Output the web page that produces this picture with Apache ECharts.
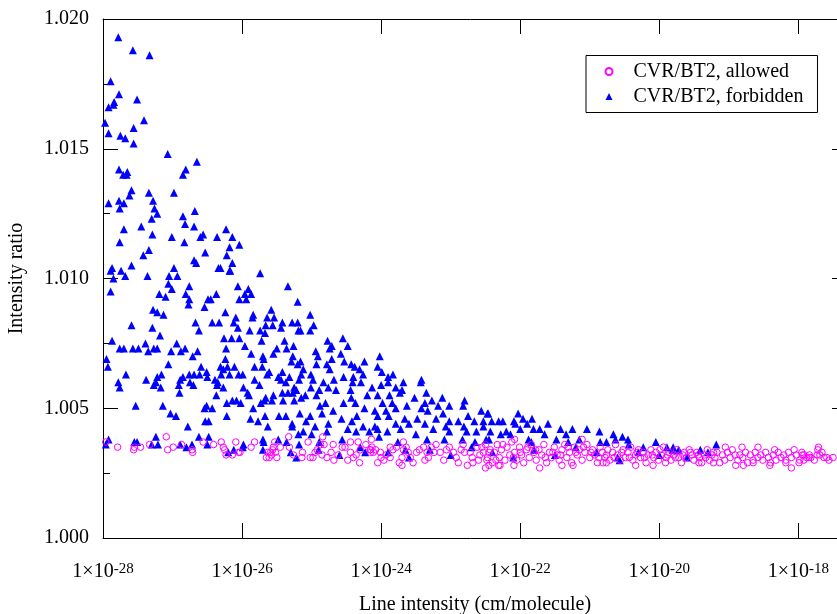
<!DOCTYPE html>
<html>
<head>
<meta charset="utf-8">
<script src="https://cdn.jsdelivr.net/npm/echarts@6/dist/echarts.min.js"></script>
<style>html,body{margin:0;padding:0;background:#fff}#c{width:837px;height:614px}</style>
</head>
<body>
<div id="c"></div>
<script>
// x values are log10 of line intensity (cm/molecule); y values are intensity ratios
const xTickExponents = [-28, -26, -24, -22, -20, -18];
const xRange = [-28, -17.3];
const yRange = [1.000, 1.020];
const yTickStep = 0.005;
const seriesNames = ['CVR/BT2, allowed', 'CVR/BT2, forbidden'];

const forbiddenPoints = [
[-27.78,1.0193],[-27.57,1.0188],[-27.33,1.0186],[-27.89,1.0176],[-27.77,1.0171],[-27.84,1.0168],[-27.51,1.0169],[-27.92,1.0166],[-27.85,1.0167],[-27.97,1.0160],
[-27.41,1.0161],[-27.56,1.0158],[-27.92,1.0156],[-27.75,1.0155],[-27.68,1.0154],[-27.56,1.0152],[-27.07,1.0148],[-26.65,1.0145],[-26.81,1.0142],[-26.85,1.0140],
[-27.77,1.0142],[-27.71,1.0140],[-27.65,1.0141],[-27.66,1.0140],[-27.59,1.0134],[-27.62,1.0132],[-27.34,1.0133],[-26.98,1.0133],[-27.28,1.0130],[-27.92,1.0129],
[-27.77,1.0130],[-27.70,1.0129],[-27.76,1.0127],[-27.26,1.0127],[-27.22,1.0125],[-27.30,1.0123],[-26.85,1.0124],[-26.68,1.0126],[-26.82,1.0121],[-26.69,1.0120],
[-27.45,1.0120],[-27.70,1.0119],[-26.56,1.0117],[-26.60,1.0116],[-26.23,1.0119],[-26.14,1.0116],[-26.36,1.0116],[-27.29,1.0117],[-27.01,1.0116],[-26.83,1.0114],
[-27.76,1.0114],[-26.04,1.0113],[-26.18,1.0112],[-26.53,1.0110],[-26.22,1.0109],[-27.34,1.0111],[-27.42,1.0109],[-26.69,1.0107],[-26.66,1.0106],[-26.14,1.0106],
[-26.34,1.0104],[-26.31,1.0104],[-26.18,1.0103],[-26.17,1.0103],[-25.74,1.0102],[-27.59,1.0105],[-27.87,1.0104],[-27.89,1.0103],[-27.74,1.0103],[-26.98,1.0104],
[-27.05,1.0101],[-26.93,1.0101],[-27.36,1.0101],[-27.68,1.0101],[-27.85,1.0100],
[-25.34,1.0097],[-26.06,1.0097],[-27.06,1.0098],[-26.76,1.0097],[-27.89,1.0095],[-27.01,1.0096],[-27.19,1.0094],[-27.10,1.0093],[-26.81,1.0094],[-26.76,1.0092],
[-26.77,1.0090],[-26.49,1.0092],[-26.45,1.0092],[-26.37,1.0094],[-25.91,1.0096],[-25.96,1.0094],[-25.87,1.0094],[-26.04,1.0092],[-25.94,1.0092],[-25.20,1.0091],
[-26.54,1.0089],[-27.28,1.0088],[-27.22,1.0087],[-27.13,1.0086],[-26.24,1.0087],[-25.84,1.0086],[-25.58,1.0088],[-25.85,1.0085],[-25.64,1.0085],[-25.54,1.0085],
[-26.09,1.0085],[-25.42,1.0083],[-25.28,1.0083],[-26.67,1.0083],[-26.43,1.0083],[-26.33,1.0083],[-26.12,1.0083],[-27.59,1.0082],[-27.29,1.0081],[-26.62,1.0080],
[-26.06,1.0081],[-25.89,1.0080],[-25.74,1.0080],[-25.66,1.0082],[-25.56,1.0082],[-25.44,1.0081],[-25.19,1.0080],[-27.18,1.0078],[-25.67,1.0079],[-26.15,1.0077],
[-26.04,1.0077],[-26.26,1.0077],[-25.72,1.0076],[-25.39,1.0076],[-27.87,1.0076],[-27.39,1.0075],[-26.94,1.0075],[-27.27,1.0073],[-27.22,1.0073],[-27.76,1.0073],
[-27.70,1.0073],[-27.57,1.0073],[-27.49,1.0073],[-27.35,1.0072],[-27.02,1.0072],[-26.88,1.0072],[-26.82,1.0073],[-26.64,1.0072],[-26.23,1.0073],[-25.96,1.0074],
[-25.50,1.0073],[-25.36,1.0073],[-25.26,1.0074],[-25.87,1.0071],[-25.70,1.0070],[-25.55,1.0071],[-25.27,1.0070],[-26.71,1.0070],[-27.95,1.0069],[-26.24,1.0069],
[-25.69,1.0069],[-27.93,1.0066],[-27.06,1.0067],[-26.59,1.0066],[-26.31,1.0066],[-26.11,1.0066],[-25.82,1.0066],[-25.20,1.0067],[-25.29,1.0068],[-25.71,1.0066],
[-26.27,1.0065],[-26.21,1.0066],[-26.51,1.0064],[-25.61,1.0064],[-25.42,1.0064],[-27.16,1.0063],[-26.76,1.0063],[-26.69,1.0063],[-26.61,1.0063],[-26.30,1.0063],
[-26.18,1.0063],[-26.05,1.0063],[-25.99,1.0063],[-27.67,1.0063],[-26.50,1.0062],[-25.64,1.0063],[-25.48,1.0062],[-25.32,1.0062],[-27.22,1.0062],[-26.85,1.0062],
[-26.89,1.0061],[-26.39,1.0061],[-26.35,1.0060],[-25.82,1.0061],[-27.38,1.0061],[-27.24,1.0060],[-26.75,1.0060],[-26.70,1.0059],[-25.44,1.0061],[-25.37,1.0060],
[-27.78,1.0060],[-27.76,1.0058],[-27.27,1.0059],[-27.17,1.0058],[-26.91,1.0059],[-26.36,1.0059],[-25.98,1.0058],[-25.75,1.0059],
[-26.90,1.0056],[-26.27,1.0058],[-25.92,1.0056],[-25.42,1.0056],[-25.34,1.0056],[-25.27,1.0056],[-25.22,1.0057],[-25.90,1.0055],[-26.37,1.0055],[-25.66,1.0054],
[-25.55,1.0055],[-25.41,1.0053],[-25.57,1.0053],[-25.68,1.0053],[-25.73,1.0052],[-26.14,1.0053],[-26.08,1.0053],[-26.02,1.0052],[-26.22,1.0052],[-27.53,1.0051],
[-27.14,1.0051],[-26.51,1.0051],[-26.54,1.0050],[-26.43,1.0050],[-25.84,1.0050],[-27.03,1.0048],[-26.95,1.0047],[-26.22,1.0047],[-25.67,1.0047],[-25.47,1.0047],
[-25.37,1.0047],[-25.88,1.0046],[-25.77,1.0045],[-26.53,1.0045],[-26.48,1.0045],[-25.63,1.0043],[-25.28,1.0043],[-26.78,1.0043],[-25.19,1.0040],[-26.62,1.0039],
[-26.48,1.0039],[-27.24,1.0039],[-27.92,1.0038],[-27.55,1.0037],[-27.51,1.0037],[-27.21,1.0036],[-26.89,1.0036],[-26.72,1.0036],[-26.50,1.0036],[-25.98,1.0036],
[-25.70,1.0038],[-25.69,1.0037],[-25.48,1.0038],[-25.36,1.0037],[-27.96,1.0036],[-26.12,1.0034],[-25.99,1.0035],[-25.22,1.0031],
[-25.02,1.0086],[-25.20,1.0083],[-24.97,1.0082],[-25.02,1.0080],[-25.16,1.0080],[-24.77,1.0076],[-24.55,1.0077],[-24.71,1.0074],[-24.48,1.0074],[-24.74,1.0073],
[-24.94,1.0072],[-24.58,1.0071],[-24.02,1.0070],[-24.24,1.0068],[-24.91,1.0070],[-24.71,1.0069],[-25.16,1.0068],[-24.93,1.0067],[-24.78,1.0067],[-24.43,1.0067],
[-24.38,1.0066],[-24.05,1.0066],[-24.53,1.0068],[-25.12,1.0065],[-24.74,1.0065],[-24.31,1.0065],[-23.99,1.0064],[-25.01,1.0063],[-25.15,1.0063],[-24.54,1.0062],
[-24.40,1.0062],[-24.26,1.0063],[-23.90,1.0062],[-23.83,1.0063],[-23.42,1.0061],[-25.18,1.0061],[-24.98,1.0061],[-24.83,1.0060],[-24.68,1.0061],[-24.41,1.0060],
[-24.29,1.0060],[-24.00,1.0059],[-23.90,1.0060],[-23.68,1.0060],[-23.43,1.0060],[-25.25,1.0058],[-25.01,1.0058],[-24.89,1.0057],[-24.76,1.0058],[-24.65,1.0057],
[-24.44,1.0057],[-24.13,1.0058],[-23.79,1.0058],[-23.70,1.0057],[-23.35,1.0056],[-23.12,1.0054],[-22.80,1.0053],[-25.09,1.0055],[-24.93,1.0055],[-24.43,1.0054],
[-24.20,1.0055],[-24.05,1.0055],[-23.88,1.0055],[-23.73,1.0056],[-23.52,1.0054],[-23.27,1.0053],[-25.25,1.0053],[-25.15,1.0054],[-24.80,1.0052],[-24.54,1.0052],
[-24.37,1.0052],[-23.98,1.0052],[-23.84,1.0052],[-23.63,1.0051],[-23.37,1.0052],[-23.18,1.0051],[-23.02,1.0051],[-22.82,1.0051],[-24.88,1.0051],[-24.69,1.0049],
[-24.24,1.0050],[-24.09,1.0049],[-23.93,1.0049],[-23.79,1.0050],[-23.42,1.0050],[-23.33,1.0049],[-23.11,1.0048],[-22.75,1.0047],[-22.56,1.0049],[-22.47,1.0048],
[-25.17,1.0048],[-25.02,1.0047],[-24.85,1.0048],[-24.57,1.0046],[-24.35,1.0047],[-24.05,1.0047],[-23.89,1.0047],[-23.66,1.0046],[-23.48,1.0046],[-23.21,1.0046],
[-23.02,1.0045],[-22.89,1.0045],[-22.66,1.0045],[-25.28,1.0044],[-25.08,1.0045],[-24.95,1.0043],[-24.76,1.0044],[-24.42,1.0045],[-24.26,1.0043],[-24.09,1.0043],
[-23.79,1.0044],[-23.60,1.0044],[-23.37,1.0044],[-23.07,1.0043],[-22.81,1.0043],[-22.53,1.0043],[-25.12,1.0041],[-25.00,1.0040],[-24.78,1.0041],[-24.48,1.0042],
[-24.36,1.0041],[-24.17,1.0041],[-24.05,1.0042],[-23.91,1.0041],[-23.72,1.0042],[-23.50,1.0040],[-23.25,1.0042],[-23.02,1.0041],[-22.77,1.0041],[-22.63,1.0041],
[-25.18,1.0036],[-24.89,1.0037],[-24.56,1.0038],[-24.03,1.0039],[-23.76,1.0037],[-23.34,1.0038],[-23.09,1.0038],[-22.83,1.0038],[-22.65,1.0037],[-22.45,1.0038],
[-24.23,1.0033],[-23.65,1.0034],
[-22.46,1.0048],[-22.03,1.0048],[-21.96,1.0046],[-22.09,1.0045],[-22.25,1.0045],[-21.83,1.0046],[-22.53,1.0045],[-22.41,1.0045],[-22.31,1.0045],[-21.60,1.0044],
[-21.90,1.0044],[-22.07,1.0044],[-21.72,1.0042],[-21.42,1.0042],[-21.25,1.0042],[-21.04,1.0042],[-21.81,1.0042],[-22.00,1.0042],[-22.20,1.0041],[-22.43,1.0041],
[-20.86,1.0041],[-20.66,1.0040],[-20.53,1.0039],[-20.45,1.0038],[-22.28,1.0040],[-22.14,1.0040],[-21.65,1.0040],[-21.34,1.0040],[-21.15,1.0038],[-21.48,1.0038],
[-22.49,1.0038],[-21.88,1.0038],[-20.76,1.0037],[-20.63,1.0038],[-21.84,1.0037],[-21.31,1.0037],[-20.85,1.0037],[-20.05,1.0037],[-19.89,1.0035],[-19.81,1.0034],
[-19.72,1.0034],[-20.23,1.0035],[-20.44,1.0036],[-20.57,1.0030],[-19.41,1.0034],[-19.18,1.0036],[-19.80,1.0035],
[-24.90,1.0034],[-24.60,1.0032],[-24.30,1.0035],[-23.90,1.0033],[-23.60,1.0031],[-23.30,1.0034],[-23.00,1.0032],[-22.70,1.0035],[-22.40,1.0033],[-22.10,1.0031],
[-21.80,1.0034],[-21.50,1.0032],[-21.20,1.0035],[-20.90,1.0033],[-20.60,1.0031],[-20.30,1.0033],[-20.00,1.0032],[-19.60,1.0031],[-19.30,1.0033],[-25.30,1.0033],
[-25.70,1.0034],[-26.20,1.0033],[-26.80,1.0035],[-27.30,1.0036]
];

const allowedPoints = [
[-27.96,1.0037],[-27.79,1.0035],[-27.56,1.0034],[-27.55,1.0035],[-27.46,1.0035],[-27.33,1.0036],[-27.09,1.0039],[-27.07,1.0034],[-26.99,1.0035],[-26.87,1.0036],
[-26.72,1.0034],[-26.71,1.0033],[-26.56,1.0037],[-26.41,1.0036],[-26.30,1.0037],[-26.27,1.0035],[-26.25,1.0034],[-26.23,1.0032],[-26.09,1.0037],[-26.14,1.0032],
[-26.05,1.0033],[-25.87,1.0035],[-25.82,1.0037],[-25.65,1.0031],[-25.63,1.0033],[-25.59,1.0033],[-25.55,1.0035],[-25.52,1.0033],[-25.50,1.0031],[-25.53,1.0037],
[-25.45,1.0035],[-25.33,1.0039],[-25.32,1.0035],[-26.03,1.0033],
[-25.26,1.0032],[-25.05,1.0037],[-25.13,1.0033],[-25.02,1.0031],[-24.98,1.0031],[-24.92,1.0034],[-24.84,1.0039],[-24.82,1.0036],[-24.85,1.0032],
[-24.78,1.0031],[-24.68,1.0030],[-24.69,1.0036],[-24.56,1.0035],[-24.44,1.0037],[-24.33,1.0037],[-24.44,1.0033],[-24.30,1.0034],[-24.40,1.0031],[-24.14,1.0038],
[-24.15,1.0033],[-24.11,1.0033],[-24.01,1.0033],[-24.00,1.0031],[-24.05,1.0029],[-23.96,1.0030],[-23.87,1.0031],[-23.87,1.0035],[-23.78,1.0035],[-23.68,1.0037],
[-23.68,1.0034],[-23.70,1.0031],[-23.74,1.0029],[-23.54,1.0029],[-23.49,1.0033],[-23.39,1.0035],[-23.34,1.0033],[-23.32,1.0031],[-23.21,1.0036],[-23.24,1.0033],
[-23.10,1.0030],[-23.06,1.0034],[-22.92,1.0031],[-22.89,1.0029],[-22.82,1.0036],[-22.80,1.0033],[-22.76,1.0028],[-22.69,1.0031],[-22.68,1.0029],[-22.55,1.0035],
[-22.53,1.0033],[-22.48,1.0030],[-22.45,1.0028],[-22.60,1.0030],[-23.37,1.0030],[-25.14,1.0031],[-24.31,1.0029],[-23.70,1.0028],[-23.61,1.0033],
[-25.58,1.0032],[-25.61,1.0031],[-25.56,1.0034],[-24.15,1.0034],[-24.13,1.0035],[-24.16,1.0034],
[-24.95,1.0033],[-24.87,1.0036],[-24.72,1.0033],[-24.62,1.0032],[-24.52,1.0035],[-24.48,1.0030],[-24.36,1.0032],[-24.22,1.0036],[-24.08,1.0034],[-23.93,1.0032],
[-23.83,1.0034],[-23.64,1.0035],[-23.58,1.0031],[-23.45,1.0034],[-23.28,1.0035],[-23.15,1.0033],[-23.02,1.0035],[-22.96,1.0033],[-22.85,1.0034],[-22.72,1.0033],
[-22.62,1.0035],[-22.58,1.0032],
[-22.08,1.0038],[-21.11,1.0038],[-22.31,1.0028],[-21.72,1.0027],[-21.40,1.0028],[-21.24,1.0028],[-20.81,1.0029],[-20.34,1.0028],[-19.91,1.0029],[-18.90,1.0028],
[-18.79,1.0028],[-18.41,1.0028],[-18.10,1.0027],[-18.06,1.0034],[-17.72,1.0034],[-17.63,1.0031],[-17.56,1.0030],[-18.81,1.0035],[-18.58,1.0035],[-18.34,1.0034],
[-17.92,1.0032],[-17.82,1.0031],[-22.29,1.0028],[-22.09,1.0028],[-22.50,1.0027],[-20.76,1.0029],[-20.09,1.0028],
[-19.05,1.0035],[-17.71,1.0035],[-17.73,1.0032],[-17.94,1.0032],[-17.85,1.0031],[-18.65,1.0029],[-19.22,1.0029],[-19.43,1.0029],[-18.18,1.0029],[-17.99,1.0029],
[-17.92,1.0030],
[-22.50,1.0036],[-22.47,1.0031],[-22.43,1.0034],[-22.40,1.0029],[-22.37,1.0033],[-22.33,1.0036],[-22.30,1.0031],[-22.27,1.0034],[-22.22,1.0030],[-22.19,1.0035],
[-22.15,1.0032],[-22.12,1.0037],[-22.08,1.0033],[-22.05,1.0030],[-22.01,1.0035],[-21.98,1.0032],[-21.95,1.0029],[-21.91,1.0034],[-21.87,1.0031],[-21.84,1.0036],
[-21.80,1.0033],[-21.77,1.0030],[-21.73,1.0034],[-21.69,1.0032],[-21.66,1.0036],[-21.62,1.0029],[-21.58,1.0033],[-21.55,1.0031],[-21.51,1.0035],[-21.47,1.0032],
[-21.44,1.0030],[-21.40,1.0034],[-21.36,1.0036],[-21.33,1.0031],[-21.29,1.0033],[-21.26,1.0029],[-21.22,1.0035],[-21.18,1.0032],[-21.15,1.0034],[-21.11,1.0030],
[-21.07,1.0033],[-21.04,1.0036],[-21.00,1.0031],[-20.96,1.0034],[-20.93,1.0032],[-20.89,1.0029],[-20.85,1.0035],[-20.82,1.0033],[-20.78,1.0031],[-20.74,1.0034],
[-20.71,1.0030],[-20.67,1.0033],[-20.63,1.0036],[-20.60,1.0032],[-20.56,1.0030],[-20.52,1.0034],[-20.49,1.0031],[-20.45,1.0033],[-20.41,1.0035],[-20.38,1.0030],
[-20.34,1.0032],[-20.30,1.0034],[-20.27,1.0031],[-20.23,1.0033],[-20.19,1.0029],[-20.16,1.0032],[-20.12,1.0034],[-20.08,1.0031],[-20.05,1.0033],[-20.01,1.0030],
[-19.97,1.0032],[-19.94,1.0035],[-19.90,1.0031],[-19.86,1.0033],[-19.83,1.0030],[-19.79,1.0032],[-19.75,1.0034],[-19.72,1.0031],[-19.68,1.0029],[-19.64,1.0033],
[-19.61,1.0031],[-19.57,1.0034],[-19.53,1.0032],[-19.50,1.0030],[-19.46,1.0033],[-19.42,1.0031],[-19.39,1.0029],[-19.35,1.0032],[-19.31,1.0034],[-19.28,1.0030],
[-19.24,1.0032],[-19.20,1.0031],[-19.17,1.0033],[-19.13,1.0029],[-19.09,1.0032],[-19.06,1.0030],[-19.02,1.0033],[-18.98,1.0031],[-18.95,1.0034],[-18.91,1.0032],
[-18.87,1.0030],[-18.84,1.0032],[-18.80,1.0031],[-18.76,1.0033],[-18.73,1.0029],[-18.69,1.0032],[-18.65,1.0030],[-18.62,1.0033],[-18.58,1.0031],[-18.54,1.0032],
[-18.51,1.0030],[-18.47,1.0033],[-18.43,1.0031],[-18.40,1.0029],[-18.36,1.0032],[-18.32,1.0030],[-18.29,1.0033],[-18.25,1.0031],[-18.21,1.0032],[-18.18,1.0030],
[-18.14,1.0033],[-18.10,1.0031],[-18.03,1.0032],[-17.98,1.0030],[-17.95,1.0033],[-17.88,1.0031],[-17.84,1.0032],[-17.77,1.0030],[-17.69,1.0032],[-17.66,1.0033],
[-17.59,1.0031],[-17.50,1.0031],
[-22.45,1.0033],[-22.35,1.0030],[-22.25,1.0036],[-22.10,1.0031],[-22.00,1.0033],[-21.89,1.0035],[-21.78,1.0034],[-21.64,1.0031],[-21.53,1.0033],[-21.42,1.0032],
[-21.31,1.0035],[-21.20,1.0033],[-21.09,1.0035],[-20.98,1.0033],[-20.87,1.0031],[-20.76,1.0032],[-20.65,1.0031],[-20.54,1.0033],[-20.43,1.0031],[-20.32,1.0033],
[-20.21,1.0031],[-20.10,1.0032],[-19.99,1.0034],[-19.88,1.0032],[-19.77,1.0031],[-19.66,1.0032],[-19.55,1.0033],[-19.44,1.0032],[-19.33,1.0031],[-19.22,1.0033]
];

const FONT = "'Liberation Serif', 'Times New Roman', Times, serif";
const chart = echarts.init(document.getElementById('c'), null, {renderer: 'canvas'});

function xAxisCfg(pos, withLabels) {
  return {
    type: 'value', position: pos, min: xRange[0], max: xRange[1], interval: 2,
    name: withLabels ? 'Line intensity (cm/molecule)' : '',
    nameLocation: 'middle', nameGap: 57, nameMoveOverlap: false,
    nameTextStyle: {fontFamily: FONT, fontSize: 20, color: '#000'},
    axisLine: {show: true, onZero: false, lineStyle: {color: '#000', width: 1}},
    axisTick: {show: true, inside: true, length: 15, lineStyle: {color: '#000', width: 1}},
    axisLabel: {
      show: withLabels, showMaxLabel: false, margin: 24,
      formatter: v => xTickExponents.indexOf(v) >= 0 ? '{b|1×10}{s|' + v + '}' : '',
      rich: {
        b: {fontFamily: FONT, fontSize: 20, color: '#000', lineHeight: 20, verticalAlign: 'bottom'},
        s: {fontFamily: FONT, fontSize: 15, color: '#000', lineHeight: 20, padding: [0, 0, 13, 0], verticalAlign: 'top'}
      }
    },
    splitLine: {show: false}
  };
}
function yAxisCfg(pos, withLabels) {
  return {
    type: 'value', position: pos, min: yRange[0], max: yRange[1], interval: yTickStep,
    name: withLabels ? 'Intensity ratio' : '',
    nameLocation: 'middle', nameGap: 76, nameRotate: 90, nameMoveOverlap: false,
    nameTextStyle: {fontFamily: FONT, fontSize: 20, color: '#000'},
    axisLine: {show: true, onZero: false, lineStyle: {color: '#000', width: 1}},
    axisTick: {show: true, inside: true, length: 15, lineStyle: {color: '#000', width: 1}},
    minorTick: {show: true, splitNumber: 2, length: 7, lineStyle: {color: '#000', width: 1}},
    axisLabel: {show: withLabels, margin: 14, fontFamily: FONT, fontSize: 20, color: '#000',
      padding: [6, 0, 0, 0], formatter: v => v.toFixed(3)},
    splitLine: {show: false}
  };
}

chart.setOption({
  animation: false,
  backgroundColor: '#fff',
  grid: {left: 103, top: 19, width: 744, height: 519, containLabel: false, outerBoundsMode: 'none'},
  legend: {
    data: seriesNames, orient: 'vertical', left: 586, top: 55.5,
    padding: [3.5, 14, 3.5, 18.5], itemGap: 0, itemWidth: 7, itemHeight: 7,
    borderColor: '#000', borderWidth: 1, backgroundColor: '#fff',
    textStyle: {fontFamily: FONT, fontSize: 20, color: '#000', lineHeight: 25, padding: [0, 0, 0, 16]}
  },
  xAxis: [xAxisCfg('bottom', true), xAxisCfg('top', false)],
  yAxis: [yAxisCfg('left', true), yAxisCfg('right', false)],
  series: [
    {
      name: seriesNames[1], type: 'scatter', xAxisIndex: 0, yAxisIndex: 0,
      data: forbiddenPoints, symbol: 'triangle', symbolSize: 8,
      itemStyle: {color: '#0000ff', opacity: 1}, emphasis: {disabled: true}
    },
    {
      name: seriesNames[0], type: 'scatter', xAxisIndex: 0, yAxisIndex: 0,
      data: allowedPoints, symbol: 'circle', symbolSize: 6.5,
      itemStyle: {color: 'rgba(0,0,0,0)', borderColor: '#ff00ff', borderWidth: 1, opacity: 1},
      emphasis: {disabled: true}
    }
  ]
});
</script>
</body>
</html>
